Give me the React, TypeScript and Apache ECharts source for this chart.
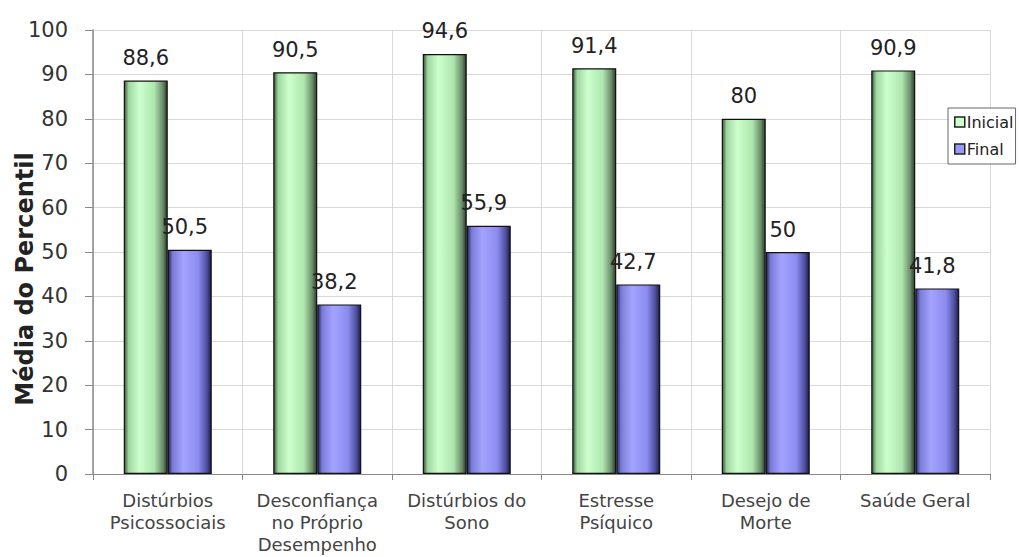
import React, { useEffect, useRef } from "react";
import * as echarts from "echarts";

const categories = [
  "Distúrbios\nPsicossociais",
  "Desconfiança\nno Próprio\nDesempenho",
  "Distúrbios do\nSono",
  "Estresse\nPsíquico",
  "Desejo de\nMorte",
  "Saúde Geral",
];
const inicialValues = [88.6, 90.5, 94.6, 91.4, 80, 90.9];
const finalValues = [50.5, 38.2, 55.9, 42.7, 50, 41.8];
const seriesNames = ["Inicial", "Final"];
const yAxisTitle = "Média do Percentil";

const FONT = "'DejaVu Sans', 'Liberation Sans', Arial, sans-serif";

const fmt = (v: number) => String(v).replace(".", ",");

// horizontal shading that gives each bar a rounded, cylinder-like look
const cylinder = (stops: [number, string][]) =>
  new echarts.graphic.LinearGradient(
    0,
    0,
    1,
    0,
    stops.map(([offset, color]) => ({ offset, color }))
  );

const greenFill = cylinder([
  [0, "#3a553a"],
  [0.1, "#9fd69f"],
  [0.35, "#ccffcc"],
  [0.7, "#aee6ae"],
  [0.9, "#6a8c6a"],
  [1, "#2c3d2c"],
]);
const purpleFill = cylinder([
  [0, "#26265a"],
  [0.1, "#7a7ad8"],
  [0.35, "#a3a3ff"],
  [0.7, "#8c8cf0"],
  [0.9, "#4e4e9e"],
  [1, "#1c1c48"],
]);

export default function App() {
  const ref = useRef<HTMLDivElement>(null);

  useEffect(() => {
    if (!ref.current) return;
    const chart = echarts.init(ref.current, null, { renderer: "svg" });
    const labelStyle = {
      show: true,
      position: "top" as const,
      distance: 12,
      fontFamily: FONT,
      fontSize: 21,
      color: "#222",
      formatter: (p: any) => fmt(p.value),
    };
    chart.setOption({
      animation: false,
      backgroundColor: "#ffffff",
      grid: { left: 93, top: 30, right: 29, bottom: 83, containLabel: false },
      legend: {
        orient: "vertical",
        left: 948,
        top: 108,
        itemWidth: 10,
        itemHeight: 10,
        itemGap: 11,
        padding: [6, 2, 7, 6],
        borderColor: "#666",
        borderWidth: 1,
        backgroundColor: "#fff",
        icon: "rect",
        textStyle: { fontFamily: FONT, fontSize: 16, color: "#222", padding: [0, 0, 0, -3] },
        data: [
          { name: seriesNames[0], itemStyle: { color: "#ccffcc", borderColor: "#222", borderWidth: 1.5 } },
          { name: seriesNames[1], itemStyle: { color: "#9999ff", borderColor: "#222", borderWidth: 1.5 } },
        ],
      },
      graphic: [
        {
          type: "text",
          x: 25,
          y: 279,
          rotation: Math.PI / 2,
          style: {
            text: yAxisTitle,
            fontFamily: FONT,
            fontSize: 24,
            fontWeight: "bold",
            fill: "#222",
            align: "center",
            verticalAlign: "middle",
          },
        },
      ],
      xAxis: {
        type: "category",
        data: categories,
        axisLine: { show: true, lineStyle: { color: "#888", width: 1 } },
        axisTick: { show: true, alignWithLabel: false, length: 6, lineStyle: { color: "#888" } },
        splitLine: { show: true, lineStyle: { color: "#d9d9d9", width: 1 } },
        axisLabel: {
          interval: 0,
          margin: 15,
          fontFamily: FONT,
          fontSize: 18,
          lineHeight: 22,
          color: "#444",
        },
      },
      yAxis: {
        type: "value",
        min: 0,
        max: 100,
        interval: 10,
        axisLine: { show: true, lineStyle: { color: "#888", width: 1.5 } },
        axisTick: { show: true, inside: false, length: 8, lineStyle: { color: "#888" } },
        splitLine: { show: true, lineStyle: { color: "#d9d9d9", width: 1 } },
        axisLabel: {
          margin: 25,
          fontFamily: FONT,
          fontSize: 21,
          color: "#333",
        },
      },
      series: [
        {
          name: seriesNames[0],
          type: "bar",
          data: inicialValues,
          barWidth: 44,
          barGap: "0%",
          itemStyle: { color: greenFill, borderColor: "#111", borderWidth: 1.2 },
          label: { ...labelStyle },
        },
        {
          name: seriesNames[1],
          type: "bar",
          data: finalValues,
          barWidth: 44,
          itemStyle: { color: purpleFill, borderColor: "#111", borderWidth: 1.2 },
          label: { ...labelStyle, offset: [-5, 0] },
        },
      ],
    });
    return () => chart.dispose();
  }, []);

  return (
    <div
      ref={ref}
      style={{ position: "absolute", left: 0, top: 0, width: 1019, height: 557 }}
    />
  );
}
